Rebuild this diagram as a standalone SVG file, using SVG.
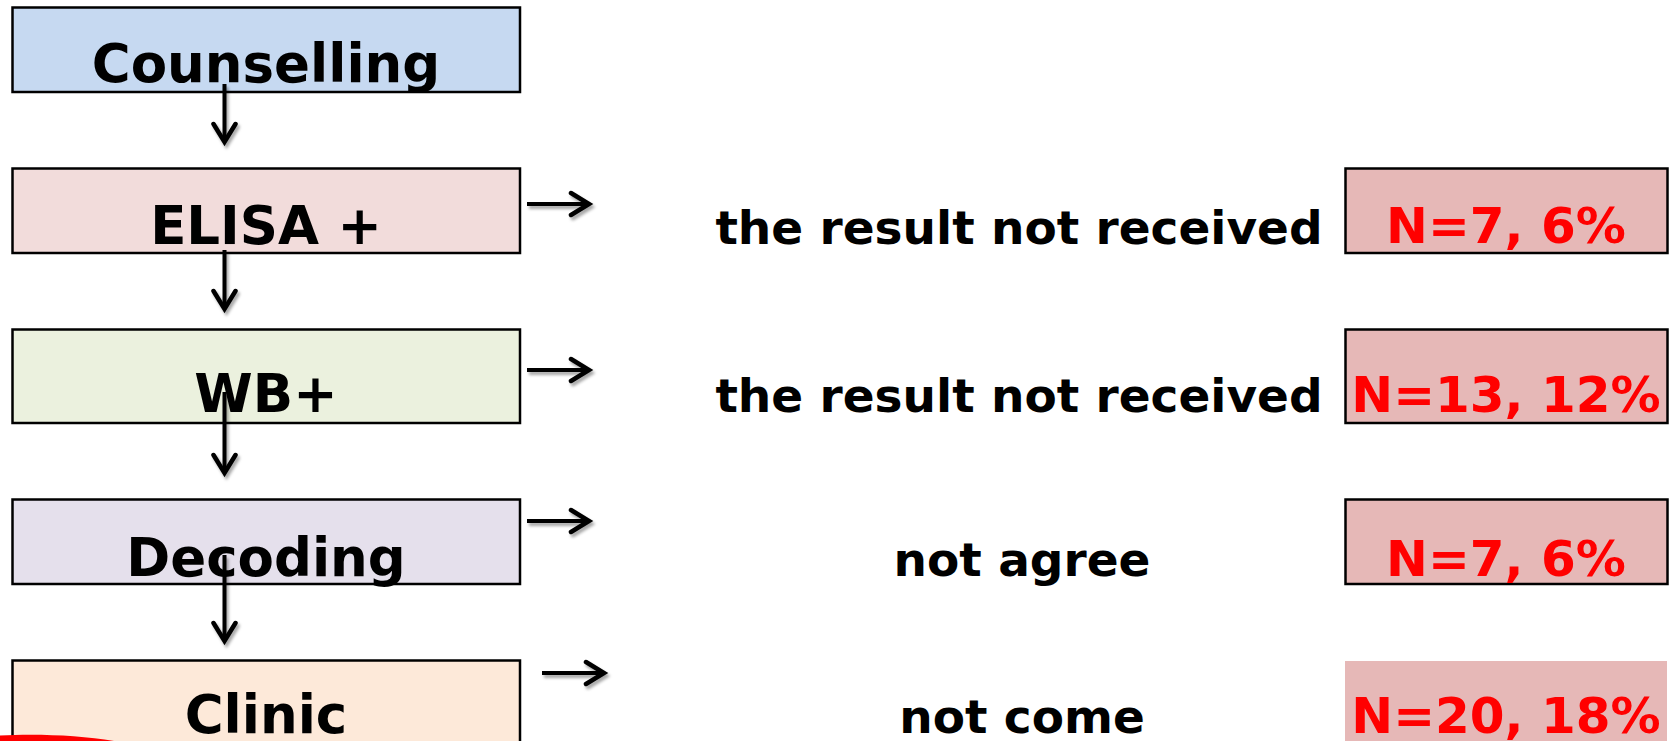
<svg xmlns="http://www.w3.org/2000/svg" width="1672" height="741" viewBox="0 0 1672 741">
<style>
.box{stroke:#000;stroke-width:2.5}
.lbl{font-family:"DejaVu Sans","Verdana",sans-serif;font-weight:bold;font-size:53px;fill:#000;text-anchor:middle}
.out{font-family:"DejaVu Sans","Verdana",sans-serif;font-weight:bold;font-size:47px;fill:#000;text-anchor:middle}
.cnt{font-family:"DejaVu Sans","Verdana",sans-serif;font-weight:bold;font-size:50px;fill:#FF0000;text-anchor:middle}
.cbox{fill:#E6B8B7}
.conn{stroke:#000;stroke-width:4;fill:none;marker-end:url(#head)}
</style>
<defs>
<marker id="head" markerUnits="userSpaceOnUse" viewBox="0 0 26 28" markerWidth="26" markerHeight="28" refX="21" refY="14" orient="auto">
<path d="M3,3 L21,14 L3,25" fill="none" stroke="#000" stroke-width="4.5" stroke-linecap="round" stroke-linejoin="miter"/>
</marker>
<filter id="sh" x="-20%" y="-20%" width="140%" height="140%">
<feDropShadow dx="2" dy="3" stdDeviation="1.8" flood-color="#000" flood-opacity="0.35"/>
</filter>
</defs>
<rect width="1672" height="741" fill="#fff"/>

<g id="node-counselling">
<rect class="box" x="12.5" y="7.5" width="507.5" height="84.5" fill="#C6D9F1"/>
<text class="lbl" x="266" y="82">Counselling</text>
</g>
<g id="node-elisa">
<rect class="box" x="12.5" y="168.5" width="507.5" height="84.5" fill="#F2DCDB"/>
<text class="lbl" x="266" y="244">ELISA +</text>
</g>
<g id="node-wb">
<rect class="box" x="12.5" y="329.5" width="507.5" height="93.5" fill="#EBF1DE"/>
<text class="lbl" x="266" y="412">WB+</text>
</g>
<g id="node-decoding">
<rect class="box" x="12.5" y="499.5" width="507.5" height="84.5" fill="#E5E0EC"/>
<text class="lbl" x="266" y="576">Decoding</text>
</g>
<g id="node-clinic">
<rect class="box" x="12.5" y="660.5" width="507.5" height="90" fill="#FDE9D9"/>
<text class="lbl" x="266" y="733">Clinic</text>
</g>

<g id="outcome-1">
<text class="out" x="1019" y="244">the result not received</text>
<rect class="box cbox" x="1345.5" y="168.5" width="322" height="84.5"/>
<text class="cnt" x="1506" y="243">N=7, 6%</text>
</g>
<g id="outcome-2">
<text class="out" x="1019" y="412">the result not received</text>
<rect class="box cbox" x="1345.5" y="329.5" width="322" height="93.5"/>
<text class="cnt" x="1506" y="412">N=13, 12%</text>
</g>
<g id="outcome-3">
<text class="out" x="1022" y="576">not agree</text>
<rect class="box cbox" x="1345.5" y="499.5" width="322" height="84.5"/>
<text class="cnt" x="1506" y="576">N=7, 6%</text>
</g>
<g id="outcome-4">
<text class="out" x="1022" y="733">not come</text>
<rect class="cbox" x="1345" y="661" width="322" height="80"/>
<text class="cnt" x="1506" y="733">N=20, 18%</text>
</g>

<g id="connectors" filter="url(#sh)">
<line class="conn" x1="224.5" y1="84" x2="224.5" y2="142"/>
<line class="conn" x1="224.5" y1="250" x2="224.5" y2="309"/>
<line class="conn" x1="224.5" y1="392" x2="224.5" y2="473"/>
<line class="conn" x1="224.5" y1="555" x2="224.5" y2="641"/>
<line class="conn" x1="527" y1="204" x2="589" y2="204"/>
<line class="conn" x1="527" y1="370" x2="589" y2="370"/>
<line class="conn" x1="527" y1="521" x2="589" y2="521"/>
<line class="conn" x1="542" y1="673" x2="604" y2="673"/>
</g>

<path id="red-shape" d="M0,741 L0,735.5 C35,733.5 80,735 114,741 Z" fill="#FF0000"/>
</svg>
